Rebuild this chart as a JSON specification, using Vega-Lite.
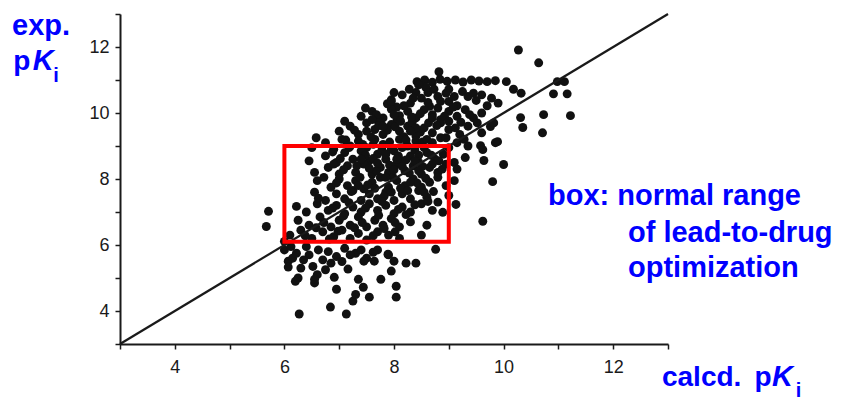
{
  "$schema": "https://vega.github.io/schema/vega-lite/v6.json",
  "width": 548,
  "height": 330,
  "autosize": {"type": "none"},
  "padding": {"left": 120, "top": 14, "right": 188, "bottom": 56},
  "background": "white",
  "config": {
    "view": {"stroke": null},
    "axis": {"title": null, "grid": false, "domainColor": "#1a1a1a", "domainWidth": 2, "tickColor": "#1a1a1a", "tickWidth": 1.5, "tickSize": 5,
      "labelFont": "Liberation Sans", "labelFontSize": 18, "labelColor": "#1a1a1a", "labelOverlap": false, "labelFlush": false}
  },
  "datasets": {
    "pts": [
      {"calc":10.27,"exp":11.91},{"calc":10.64,"exp":11.52},{"calc":10.98,"exp":10.95},{"calc":11.11,"exp":10.95},{"calc":10.91,"exp":10.58},{"calc":11.16,"exp":10.58},{"calc":10.73,"exp":9.95},{"calc":11.22,"exp":9.92},{"calc":10.71,"exp":9.40},{"calc":10.31,"exp":9.86},{"calc":10.35,"exp":9.56},{"calc":9.76,"exp":9.59},{"calc":9.85,"exp":9.10},{"calc":9.58,"exp":9.01},{"calc":9.64,"exp":8.56},{"calc":10.0,"exp":8.44},{"calc":9.80,"exp":7.92},{"calc":9.62,"exp":6.72},
      {"calc":8.42,"exp":10.95},{"calc":8.56,"exp":11.0},{"calc":8.70,"exp":10.93},{"calc":8.84,"exp":11.02},{"calc":8.82,"exp":11.25},{"calc":8.97,"exp":10.96},{"calc":9.12,"exp":11.0},{"calc":9.26,"exp":10.94},{"calc":9.41,"exp":11.0},{"calc":9.55,"exp":10.97},{"calc":9.70,"exp":10.95},{"calc":9.85,"exp":10.98},{"calc":10.05,"exp":10.95},{"calc":10.18,"exp":10.72},{"calc":10.32,"exp":10.60},{"calc":9.0,"exp":10.72},{"calc":9.25,"exp":10.65},{"calc":8.58,"exp":10.78},
      {"calc":7.95,"exp":10.40},{"calc":8.15,"exp":10.55},{"calc":8.30,"exp":10.30},{"calc":8.50,"exp":10.45},{"calc":8.65,"exp":10.20},{"calc":8.80,"exp":10.50},{"calc":9.00,"exp":10.35},{"calc":9.15,"exp":10.22},{"calc":9.35,"exp":10.50},{"calc":9.50,"exp":10.38},{"calc":9.70,"exp":10.22},{"calc":9.90,"exp":10.30},{"calc":8.05,"exp":10.18},{"calc":8.40,"exp":10.62},{"calc":8.95,"exp":10.60},{"calc":9.45,"exp":10.60},
      {"calc":7.40,"exp":9.90},{"calc":7.60,"exp":10.05},{"calc":7.80,"exp":9.85},{"calc":7.95,"exp":10.12},{"calc":8.10,"exp":9.92},{"calc":8.25,"exp":10.05},{"calc":8.40,"exp":9.85},{"calc":8.55,"exp":10.10},{"calc":8.70,"exp":9.95},{"calc":8.85,"exp":9.80},{"calc":9.00,"exp":10.05},{"calc":9.15,"exp":9.90},{"calc":9.30,"exp":10.10},{"calc":9.45,"exp":9.85},{"calc":9.60,"exp":10.00},{"calc":7.70,"exp":9.78},{"calc":8.05,"exp":9.75},{"calc":8.80,"exp":10.15},{"calc":9.52,"exp":9.70},{"calc":9.82,"exp":9.70},{"calc":9.89,"exp":9.13},{"calc":9.62,"exp":8.89},
      {"calc":7.00,"exp":9.45},{"calc":7.20,"exp":9.60},{"calc":7.35,"exp":9.35},{"calc":7.50,"exp":9.70},{"calc":7.65,"exp":9.50},{"calc":7.80,"exp":9.35},{"calc":7.95,"exp":9.65},{"calc":8.10,"exp":9.45},{"calc":8.25,"exp":9.60},{"calc":8.40,"exp":9.30},{"calc":8.55,"exp":9.55},{"calc":8.70,"exp":9.40},{"calc":8.85,"exp":9.70},{"calc":9.00,"exp":9.50},{"calc":9.20,"exp":9.35},{"calc":9.35,"exp":9.60},{"calc":6.58,"exp":9.25},{"calc":7.10,"exp":9.75},{"calc":9.60,"exp":9.40},
      {"calc":6.50,"exp":8.95},{"calc":6.75,"exp":9.10},{"calc":6.90,"exp":8.90},{"calc":7.05,"exp":9.20},{"calc":7.20,"exp":9.00},{"calc":7.35,"exp":9.15},{"calc":7.50,"exp":8.95},{"calc":7.65,"exp":9.20},{"calc":7.80,"exp":9.05},{"calc":7.95,"exp":8.90},{"calc":8.10,"exp":9.20},{"calc":8.25,"exp":9.00},{"calc":8.40,"exp":9.15},{"calc":8.55,"exp":8.95},{"calc":8.70,"exp":9.10},{"calc":8.85,"exp":9.25},{"calc":9.00,"exp":8.95},{"calc":9.15,"exp":9.10},{"calc":9.35,"exp":9.00},
      {"calc":6.45,"exp":8.55},{"calc":6.75,"exp":8.70},{"calc":6.95,"exp":8.50},{"calc":7.10,"exp":8.80},{"calc":7.25,"exp":8.60},{"calc":7.40,"exp":8.85},{"calc":7.55,"exp":8.55},{"calc":7.70,"exp":8.75},{"calc":7.85,"exp":8.60},{"calc":8.00,"exp":8.85},{"calc":8.15,"exp":8.55},{"calc":8.30,"exp":8.70},{"calc":8.45,"exp":8.50},{"calc":8.60,"exp":8.80},{"calc":8.75,"exp":8.60},{"calc":8.90,"exp":8.75},{"calc":9.10,"exp":8.50},{"calc":9.30,"exp":8.65},
      {"calc":6.55,"exp":8.20},{"calc":6.80,"exp":8.35},{"calc":7.00,"exp":8.15},{"calc":7.15,"exp":8.40},{"calc":7.30,"exp":8.20},{"calc":7.45,"exp":8.45},{"calc":7.60,"exp":8.15},{"calc":7.75,"exp":8.35},{"calc":7.90,"exp":8.20},{"calc":8.05,"exp":8.45},{"calc":8.20,"exp":8.25},{"calc":8.35,"exp":8.40},{"calc":8.50,"exp":8.15},{"calc":8.65,"exp":8.35},{"calc":8.80,"exp":8.20},{"calc":8.95,"exp":8.45},{"calc":9.15,"exp":8.30},{"calc":6.90,"exp":8.45},
      {"calc":6.60,"exp":7.95},{"calc":6.85,"exp":7.75},{"calc":7.00,"exp":8.00},{"calc":7.15,"exp":7.80},{"calc":7.30,"exp":7.95},{"calc":7.45,"exp":7.70},{"calc":7.60,"exp":7.90},{"calc":7.75,"exp":8.05},{"calc":7.90,"exp":7.75},{"calc":8.05,"exp":7.95},{"calc":8.20,"exp":7.80},{"calc":8.35,"exp":8.00},{"calc":8.50,"exp":7.75},{"calc":8.65,"exp":7.90},{"calc":8.80,"exp":8.05},{"calc":8.95,"exp":7.80},{"calc":9.10,"exp":7.95},
      {"calc":6.55,"exp":7.60},{"calc":6.75,"exp":7.35},{"calc":6.95,"exp":7.55},{"calc":7.10,"exp":7.40},{"calc":7.25,"exp":7.65},{"calc":7.40,"exp":7.35},{"calc":7.55,"exp":7.55},{"calc":7.70,"exp":7.40},{"calc":7.85,"exp":7.60},{"calc":8.00,"exp":7.35},{"calc":8.15,"exp":7.55},{"calc":8.30,"exp":7.40},{"calc":8.45,"exp":7.65},{"calc":8.60,"exp":7.45},{"calc":8.80,"exp":7.30},{"calc":9.00,"exp":7.50},
      {"calc":6.22,"exp":7.17},{"calc":6.40,"exp":7.00},{"calc":6.60,"exp":7.25},{"calc":6.80,"exp":7.05},{"calc":6.95,"exp":7.20},{"calc":7.10,"exp":6.95},{"calc":7.25,"exp":7.15},{"calc":7.40,"exp":7.00},{"calc":7.55,"exp":7.25},{"calc":7.70,"exp":7.05},{"calc":7.85,"exp":7.20},{"calc":8.00,"exp":6.95},{"calc":8.15,"exp":7.15},{"calc":8.30,"exp":7.00},{"calc":8.50,"exp":7.25},{"calc":8.70,"exp":7.05},{"calc":8.89,"exp":6.99},{"calc":9.13,"exp":7.23},
      {"calc":6.25,"exp":6.75},{"calc":6.45,"exp":6.60},{"calc":6.65,"exp":6.85},{"calc":6.85,"exp":6.55},{"calc":7.00,"exp":6.75},{"calc":7.20,"exp":6.60},{"calc":7.35,"exp":6.85},{"calc":7.50,"exp":6.55},{"calc":7.65,"exp":6.75},{"calc":7.80,"exp":6.60},{"calc":7.95,"exp":6.80},{"calc":8.10,"exp":6.55},{"calc":8.30,"exp":6.70},{"calc":8.60,"exp":6.60},
      {"calc":6.10,"exp":6.30},{"calc":6.30,"exp":6.45},{"calc":6.50,"exp":6.20},{"calc":6.70,"exp":6.40},{"calc":6.90,"exp":6.25},{"calc":7.05,"exp":6.45},{"calc":7.20,"exp":6.20},{"calc":7.35,"exp":6.35},{"calc":7.50,"exp":6.15},{"calc":7.70,"exp":6.40},{"calc":7.90,"exp":6.30},{"calc":8.10,"exp":6.20},{"calc":8.50,"exp":6.30},
      {"calc":5.71,"exp":7.02},{"calc":5.67,"exp":6.56},{"calc":6.00,"exp":6.11},
      {"calc":6.07,"exp":5.51},{"calc":6.07,"exp":5.33},{"calc":6.00,"exp":5.85},{"calc":6.15,"exp":5.60},{"calc":6.30,"exp":5.30},{"calc":6.45,"exp":5.70},{"calc":6.60,"exp":5.10},{"calc":6.70,"exp":5.55},{"calc":6.25,"exp":5.00},{"calc":6.55,"exp":4.85},{"calc":6.40,"exp":5.95},{"calc":6.80,"exp":5.80},{"calc":6.20,"exp":4.90},{"calc":6.95,"exp":5.65},{"calc":7.10,"exp":5.90},{"calc":7.30,"exp":5.75},{"calc":7.50,"exp":5.60},{"calc":7.70,"exp":5.85},{"calc":7.90,"exp":5.70},{"calc":6.91,"exp":5.02},{"calc":7.16,"exp":5.27},{"calc":7.35,"exp":4.96},{"calc":7.44,"exp":4.72},{"calc":7.45,"exp":5.51},{"calc":7.64,"exp":5.51},{"calc":7.76,"exp":4.96},{"calc":7.89,"exp":5.72},{"calc":7.95,"exp":5.21},{"calc":8.04,"exp":4.75},{"calc":8.04,"exp":4.42},{"calc":8.00,"exp":5.51},{"calc":8.22,"exp":5.45},{"calc":8.40,"exp":5.45},{"calc":8.76,"exp":5.87},{"calc":6.55,"exp":4.96},{"calc":6.95,"exp":4.66},
      {"calc":6.27,"exp":3.91},{"calc":6.84,"exp":4.12},{"calc":7.13,"exp":3.91},{"calc":7.25,"exp":4.30},{"calc":7.30,"exp":4.50},{"calc":7.55,"exp":4.42},
      {"calc":7.48,"exp":10.15},{"calc":7.68,"exp":9.95},{"calc":7.88,"exp":10.28},{"calc":8.02,"exp":9.58},{"calc":8.18,"exp":10.22},{"calc":8.33,"exp":9.72},{"calc":8.48,"exp":9.98},{"calc":8.62,"exp":10.32},{"calc":8.78,"exp":9.62},{"calc":8.92,"exp":9.90},{"calc":9.08,"exp":10.18},{"calc":9.22,"exp":9.72},{"calc":9.38,"exp":9.95},{"calc":9.12,"exp":9.55},{"calc":8.48,"exp":9.42},{"calc":8.18,"exp":9.28},{"calc":7.88,"exp":9.48},{"calc":7.58,"exp":9.28},{"calc":7.28,"exp":9.48},{"calc":7.12,"exp":9.18},{"calc":7.43,"exp":9.05},{"calc":7.72,"exp":9.62},{"calc":8.32,"exp":9.88},{"calc":8.63,"exp":9.70},{"calc":8.95,"exp":9.25},{"calc":9.28,"exp":9.20},{"calc":8.62,"exp":10.62},{"calc":8.28,"exp":10.72},{"calc":8.00,"exp":10.62},{"calc":8.73,"exp":10.72},{"calc":9.10,"exp":10.50},{"calc":9.60,"exp":10.55},{"calc":9.78,"exp":10.45},{"calc":8.45,"exp":10.85},
      {"calc":6.88,"exp":8.82},{"calc":7.18,"exp":8.95},{"calc":7.48,"exp":8.72},{"calc":7.78,"exp":8.88},{"calc":8.08,"exp":8.70},{"calc":8.38,"exp":8.88},{"calc":8.68,"exp":8.72},{"calc":7.02,"exp":8.62},{"calc":7.32,"exp":8.40},{"calc":7.62,"exp":8.62},{"calc":7.92,"exp":8.42},{"calc":8.22,"exp":8.58},{"calc":8.52,"exp":8.38},{"calc":8.82,"exp":8.55},{"calc":6.72,"exp":8.05},{"calc":7.08,"exp":8.28},{"calc":7.38,"exp":8.05},{"calc":7.68,"exp":8.25},{"calc":7.98,"exp":8.05},{"calc":8.28,"exp":8.18},{"calc":8.58,"exp":8.02},{"calc":8.88,"exp":8.30},{"calc":6.95,"exp":7.88},{"calc":7.22,"exp":7.62},{"calc":7.52,"exp":7.82},{"calc":7.82,"exp":7.48},{"calc":8.12,"exp":7.72},{"calc":8.42,"exp":7.88},{"calc":8.72,"exp":7.62},{"calc":6.62,"exp":7.42},{"calc":6.88,"exp":7.12},{"calc":7.18,"exp":7.28},{"calc":7.48,"exp":7.12},{"calc":7.78,"exp":7.32},{"calc":8.08,"exp":7.08},{"calc":8.38,"exp":7.22},{"calc":8.62,"exp":7.32},{"calc":6.72,"exp":6.68},{"calc":7.08,"exp":6.88},{"calc":7.42,"exp":6.68},{"calc":7.72,"exp":6.90},{"calc":8.02,"exp":6.68},{"calc":8.22,"exp":6.92},{"calc":6.58,"exp":6.52},{"calc":6.98,"exp":6.42},{"calc":7.28,"exp":6.52},{"calc":7.62,"exp":6.28},{"calc":7.82,"exp":6.50},{"calc":8.02,"exp":6.40},{"calc":6.38,"exp":6.28},{"calc":6.82,"exp":6.18},
      {"calc":6.12,"exp":5.95},{"calc":6.35,"exp":5.55},{"calc":6.52,"exp":5.35},{"calc":6.75,"exp":5.25},{"calc":6.22,"exp":5.75},{"calc":6.85,"exp":5.45},{"calc":7.05,"exp":5.50},{"calc":7.20,"exp":5.70},{"calc":6.62,"exp":5.85},{"calc":7.62,"exp":5.78},{"calc":7.40,"exp":5.85},
      {"calc":7.62,"exp":9.05},{"calc":7.92,"exp":9.12},{"calc":8.22,"exp":9.18},{"calc":8.52,"exp":9.12},{"calc":8.15,"exp":8.95},{"calc":7.85,"exp":8.75},{"calc":8.45,"exp":8.72},{"calc":8.05,"exp":8.60},{"calc":7.70,"exp":8.48},{"calc":8.38,"exp":8.55},{"calc":8.70,"exp":8.45},{"calc":7.55,"exp":8.32},{"calc":7.85,"exp":8.05},{"calc":8.15,"exp":8.38},{"calc":8.45,"exp":8.25},{"calc":7.40,"exp":8.60},{"calc":8.25,"exp":7.65},{"calc":7.95,"exp":7.60},{"calc":7.65,"exp":7.72},{"calc":8.55,"exp":7.60},{"calc":7.35,"exp":7.80},{"calc":8.30,"exp":7.90},{"calc":8.00,"exp":8.28},{"calc":7.50,"exp":9.45},{"calc":7.80,"exp":9.60},{"calc":8.12,"exp":9.75},{"calc":8.40,"exp":9.55},{"calc":8.70,"exp":9.85},{"calc":8.00,"exp":9.95},{"calc":8.60,"exp":9.20},{"calc":8.30,"exp":9.45},{"calc":7.60,"exp":9.80},{"calc":7.95,"exp":10.35},{"calc":8.35,"exp":10.45},{"calc":9.00,"exp":9.75},{"calc":8.85,"exp":10.35}
    ]
  },
  "encoding": {
    "x": {"field": "calc", "type": "quantitative", "scale": {"domain": [3, 13], "nice": false, "zero": false},
      "axis": {"values": [3,4,5,6,7,8,9,10,11,12,13], "labelPadding": 9,
        "labelExpr": "datum.value % 2 == 0 && datum.value >= 4 && datum.value <= 12 ? datum.label : ''"}},
    "y": {"field": "exp", "type": "quantitative", "scale": {"domain": [3, 13], "nice": false, "zero": false},
      "axis": {"values": [3,4,5,6,7,8,9,10,11,12,13], "labelPadding": 6,
        "labelExpr": "datum.value % 2 == 0 && datum.value >= 4 && datum.value <= 12 ? datum.label : ''"}}
  },
  "layer": [
    {
      "data": {"name": "pts"},
      "mark": {"type": "circle", "size": 80, "color": "#111111", "opacity": 1}
    },
    {
      "data": {"values": [{"calc": 3, "exp": 3}, {"calc": 13, "exp": 13}]},
      "mark": {"type": "line", "color": "#1a1a1a", "strokeWidth": 2.2},
      "encoding": {}
    },
    {
      "data": {"values": [{"calc": 6, "calc2": 9, "exp": 6.1, "exp2": 9}]},
      "mark": {"type": "rect", "fillOpacity": 0, "stroke": "#ff0000", "strokeWidth": 4},
      "encoding": {
        "x2": {"field": "calc2"},
        "y2": {"field": "exp2"}
      }
    },
    {
      "data": {"values": [
        {"t": "p", "calc": 1.05, "exp": 11.3},
        {"t": "calcd.", "calc": 12.89, "exp": 1.73},
        {"t": "p", "calc": 14.58, "exp": 1.73}
      ]},
      "mark": {"type": "text", "align": "left", "baseline": "alphabetic", "font": "Liberation Sans", "fontWeight": "bold", "fontSize": 28, "color": "#0000ff"},
      "encoding": {"text": {"field": "t"}}
    },
    {
      "data": {"values": [
        {"t": "K", "calc": 1.41, "exp": 11.3},
        {"t": "K", "calc": 14.9, "exp": 1.73}
      ]},
      "mark": {"type": "text", "align": "left", "baseline": "alphabetic", "font": "Liberation Sans", "fontWeight": "bold", "fontStyle": "italic", "fontSize": 29, "color": "#0000ff"},
      "encoding": {"text": {"field": "t"}}
    },
    {
      "data": {"values": [
        {"t": "i", "calc": 1.78, "exp": 10.94},
        {"t": "i", "calc": 15.33, "exp": 1.39}
      ]},
      "mark": {"type": "text", "align": "left", "baseline": "alphabetic", "font": "Liberation Sans", "fontWeight": "bold", "fontSize": 20, "color": "#0000ff"},
      "encoding": {"text": {"field": "t"}}
    },
    {
      "data": {"values": [
        {"t": "exp.", "calc": 1.03, "exp": 12.36},
        {"t": "box: normal range", "calc": 10.81, "exp": 7.21},
        {"t": "of lead-to-drug", "calc": 12.27, "exp": 6.09},
        {"t": "optimization", "calc": 12.27, "exp": 5.03}
      ]},
      "mark": {"type": "text", "align": "left", "baseline": "alphabetic", "font": "Liberation Sans", "fontWeight": "bold", "fontSize": 29, "color": "#0000ff"},
      "encoding": {"text": {"field": "t"}}
    }
  ]
}
